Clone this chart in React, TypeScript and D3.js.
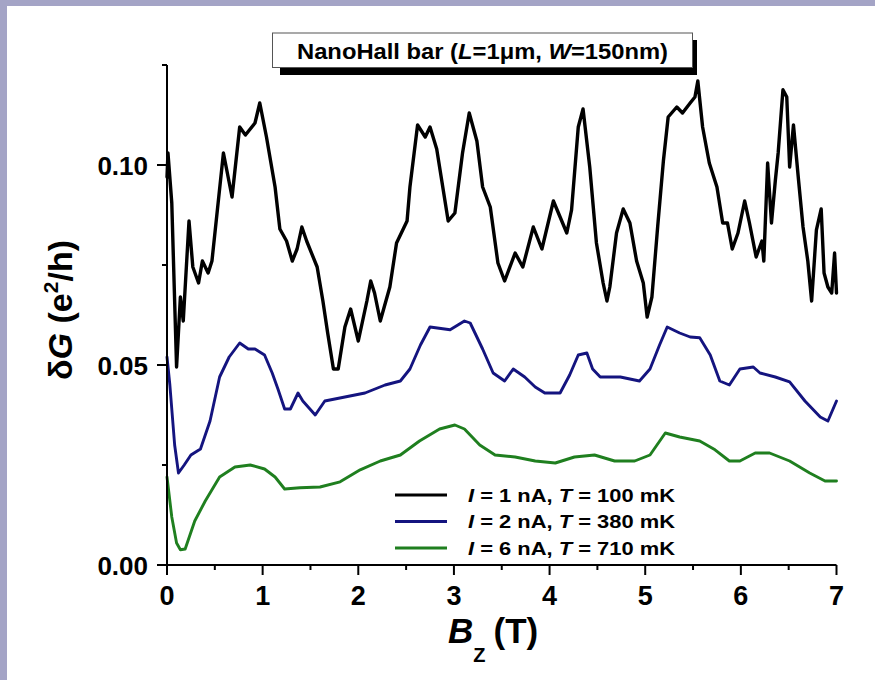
import React, { useEffect } from "react";
import * as d3 from "d3";

const xTicksMajor = [0, 1, 2, 3, 4, 5, 6, 7];
const xTicksMinor = [0.5, 1.5, 2.5, 3.5, 4.5, 5.5, 6.5];
const yTicksMajor = [0, 0.05, 0.1];
const yTickLabels = ["0.00", "0.05", "0.10"];
const yTicksMinor = [0.025, 0.075, 0.125];

const blackSeries: [number, number][] = [
  [0, 0.097], [0.01, 0.103], [0.05, 0.0905], [0.1, 0.0495], [0.14, 0.067], [0.17, 0.061], [0.23, 0.086],
  [0.27, 0.0745], [0.33, 0.0705], [0.37, 0.076], [0.43, 0.073], [0.47, 0.076], [0.59, 0.103], [0.68, 0.092],
  [0.76, 0.1095], [0.82, 0.1075], [0.92, 0.1105], [0.97, 0.1155], [1.04, 0.107], [1.13, 0.0945], [1.18, 0.084],
  [1.25, 0.081], [1.31, 0.076], [1.36, 0.079], [1.41, 0.0845], [1.46, 0.081], [1.57, 0.0745], [1.63, 0.066],
  [1.68, 0.058], [1.74, 0.049], [1.79, 0.049], [1.86, 0.0595], [1.92, 0.064], [2.0, 0.056], [2.09, 0.066],
  [2.13, 0.071], [2.17, 0.068], [2.23, 0.061], [2.33, 0.0695], [2.4, 0.0805], [2.51, 0.086], [2.54, 0.0945],
  [2.62, 0.11], [2.7, 0.107], [2.75, 0.1095], [2.82, 0.104], [2.94, 0.086], [3.01, 0.088], [3.09, 0.103],
  [3.16, 0.113], [3.24, 0.106], [3.3, 0.0945], [3.38, 0.0895], [3.46, 0.0755], [3.53, 0.071], [3.64, 0.078],
  [3.72, 0.0745], [3.83, 0.0845], [3.92, 0.079], [4.04, 0.091], [4.11, 0.087], [4.18, 0.083], [4.23, 0.0888],
  [4.3, 0.1095], [4.35, 0.114], [4.42, 0.0995], [4.49, 0.0805], [4.56, 0.0705], [4.6, 0.066], [4.63, 0.0695],
  [4.7, 0.083], [4.77, 0.089], [4.84, 0.0855], [4.91, 0.076], [4.98, 0.0705], [5.02, 0.062], [5.07, 0.067],
  [5.13, 0.0845], [5.19, 0.101], [5.24, 0.112], [5.33, 0.1145], [5.39, 0.113], [5.47, 0.1155], [5.52, 0.117],
  [5.55, 0.121], [5.6, 0.1095], [5.67, 0.1005], [5.75, 0.0945], [5.81, 0.0855], [5.86, 0.0855], [5.91, 0.079],
  [5.97, 0.083], [6.04, 0.091], [6.09, 0.0855], [6.16, 0.077], [6.22, 0.081], [6.24, 0.076], [6.28, 0.1005],
  [6.32, 0.0855], [6.36, 0.096], [6.39, 0.103], [6.44, 0.1188], [6.48, 0.117], [6.51, 0.0995], [6.55, 0.11],
  [6.6, 0.097], [6.65, 0.0845], [6.7, 0.076], [6.74, 0.066], [6.79, 0.0838], [6.84, 0.089], [6.87, 0.073],
  [6.91, 0.0695], [6.95, 0.068], [6.98, 0.078], [7.0, 0.068],
];

const blueSeries: [number, number][] = [
  [0, 0.052], [0.03, 0.045], [0.08, 0.03], [0.12, 0.023], [0.18, 0.025], [0.25, 0.0275], [0.35, 0.029],
  [0.45, 0.036], [0.55, 0.047], [0.65, 0.052], [0.76, 0.0555], [0.85, 0.054], [0.92, 0.054], [1.02, 0.0525],
  [1.1, 0.048], [1.16, 0.044], [1.23, 0.039], [1.29, 0.039], [1.37, 0.043], [1.42, 0.041], [1.55, 0.0375],
  [1.65, 0.041], [1.86, 0.042], [2.07, 0.043], [2.28, 0.045], [2.44, 0.046], [2.54, 0.049], [2.65, 0.055],
  [2.75, 0.0595], [2.96, 0.0588], [3.11, 0.061], [3.17, 0.0605], [3.3, 0.054], [3.41, 0.048], [3.53, 0.046],
  [3.62, 0.049], [3.74, 0.047], [3.85, 0.0445], [3.95, 0.043], [4.11, 0.043], [4.21, 0.0475], [4.3, 0.0525],
  [4.39, 0.053], [4.45, 0.049], [4.53, 0.047], [4.74, 0.047], [4.94, 0.046], [5.05, 0.049], [5.15, 0.055],
  [5.23, 0.0595], [5.36, 0.058], [5.47, 0.057], [5.57, 0.0568], [5.68, 0.0525], [5.78, 0.046], [5.88, 0.045],
  [5.99, 0.049], [6.13, 0.0495], [6.2, 0.048], [6.36, 0.047], [6.51, 0.0458], [6.67, 0.041], [6.83, 0.037],
  [6.91, 0.036], [7.0, 0.041],
];

const greenSeries: [number, number][] = [
  [0, 0.022], [0.05, 0.012], [0.1, 0.0055], [0.14, 0.0038], [0.19, 0.004], [0.29, 0.011], [0.4, 0.016],
  [0.55, 0.022], [0.71, 0.0245], [0.87, 0.025], [1.02, 0.024], [1.13, 0.022], [1.23, 0.019], [1.39, 0.0193],
  [1.6, 0.0195], [1.81, 0.0208], [2.02, 0.0238], [2.23, 0.026], [2.44, 0.0275], [2.64, 0.031], [2.85, 0.034],
  [3.01, 0.035], [3.11, 0.034], [3.27, 0.03], [3.43, 0.0275], [3.64, 0.027], [3.85, 0.026], [4.06, 0.0255],
  [4.26, 0.027], [4.47, 0.0275], [4.68, 0.026], [4.89, 0.026], [5.05, 0.0275], [5.21, 0.033], [5.36, 0.032],
  [5.57, 0.031], [5.73, 0.0288], [5.88, 0.026], [5.99, 0.026], [6.15, 0.028], [6.3, 0.028], [6.51, 0.026],
  [6.72, 0.023], [6.88, 0.021], [7.0, 0.021],
];

const legendLabels = [
  { i: "1", t: "100" },
  { i: "2", t: "380" },
  { i: "6", t: "710" },
];
const seriesColors = ["#000000", "#14147f", "#1f7f1f"];

const W = 875;
const H = 680;
const FONT = "'Liberation Sans', Arial, sans-serif";

export default function App() {
  useEffect(() => {
    document.documentElement.style.overflow = "hidden";
    document.body.style.margin = "0";
    document.body.style.overflow = "hidden";
  }, []);

  const x = d3.scaleLinear().domain([0, 7]).range([167, 836.5]);
  const y = d3.scaleLinear().domain([0, 0.125]).range([565, 65]);
  const line = d3
    .line<[number, number]>()
    .x((d) => x(d[0]))
    .y((d) => y(d[1]));

  const series = [blackSeries, blueSeries, greenSeries];

  return (
    <svg
      width={W}
      height={H}
      style={{ position: "absolute", left: 0, top: 0, display: "block" }}
      fontFamily={FONT}
    >
      <rect x={0} y={0} width={W} height={H} fill="#a4a4c6" />
      <rect x={7} y={6} width={W - 7} height={H - 6} fill="#ffffff" />

      {/* curves */}
      {series.map((s, k) => (
        <path
          key={k}
          d={line(s) || ""}
          fill="none"
          stroke={seriesColors[k]}
          strokeWidth={k === 0 ? 3.4 : 2.9}
          strokeLinejoin="round"
          strokeLinecap="round"
        />
      ))}

      {/* axes */}
      <line x1={x(0)} x2={x(0)} y1={y(0.125)} y2={y(0)} stroke="#000" strokeWidth={2} />
      <line x1={x(0)} x2={x(7)} y1={y(0)} y2={y(0)} stroke="#000" strokeWidth={2} />
      {xTicksMajor.map((t) => (
        <g key={"xm" + t}>
          <line x1={x(t)} x2={x(t)} y1={y(0)} y2={y(0) + 10} stroke="#000" strokeWidth={2} />
          <text x={x(t)} y={605} textAnchor="middle" fontSize={27} fontWeight="bold">
            {t}
          </text>
        </g>
      ))}
      {xTicksMinor.map((t) => (
        <line key={"xn" + t} x1={x(t)} x2={x(t)} y1={y(0)} y2={y(0) + 5} stroke="#000" strokeWidth={2} />
      ))}
      {yTicksMajor.map((t, i) => (
        <g key={"ym" + t}>
          <line x1={x(0) - 10} x2={x(0)} y1={y(t)} y2={y(t)} stroke="#000" strokeWidth={2} />
          <text x={148} y={y(t) + 9.5} textAnchor="end" fontSize={26} fontWeight="bold">
            {yTickLabels[i]}
          </text>
        </g>
      ))}
      {yTicksMinor.map((t) => (
        <line key={"yn" + t} x1={x(0) - 5} x2={x(0)} y1={y(t)} y2={y(t)} stroke="#000" strokeWidth={2} />
      ))}

      {/* x title */}
      <text x={448} y={643} fontSize={35} fontWeight="bold">
        <tspan fontStyle="italic">B</tspan>
        <tspan fontSize={20} dy={19}>Z</tspan>
        <tspan dy={-19} dx={8}>(T)</tspan>
      </text>

      {/* y title */}
      <text
        transform="translate(72,310) rotate(-90)"
        textAnchor="middle"
        fontSize={34}
        fontWeight="bold"
      >
        <tspan>δ</tspan>
        <tspan fontStyle="italic">G</tspan>
        <tspan> (e</tspan>
        <tspan fontSize={21} dy={-14}>2</tspan>
        <tspan dy={14}>/h)</tspan>
      </text>

      {/* title box */}
      <rect x={280} y={40} width={417} height={35} fill="#000" />
      <rect x={272.5} y={33} width={420} height={34.5} fill="#fff" stroke="#555" strokeWidth={1} />
      <text
        x={297}
        y={58.5}
        fontSize={22}
        fontWeight="bold"
        textLength={371}
        lengthAdjust="spacingAndGlyphs"
      >
        NanoHall bar (<tspan fontStyle="italic">L</tspan>=1μm, <tspan fontStyle="italic">W</tspan>=150nm)
      </text>

      {/* legend */}
      {legendLabels.map((l, k) => (
        <g key={"lg" + k}>
          <line x1={395} x2={447} y1={495 + k * 26.5} y2={495 + k * 26.5} stroke={seriesColors[k]} strokeWidth={3} />
          <text
            x={468}
            y={501.5 + k * 26.5}
            fontSize={18}
            fontWeight="bold"
            textLength={207}
            lengthAdjust="spacingAndGlyphs"
          >
            <tspan fontStyle="italic">I</tspan>
            {`  =  ${l.i} nA,  `}
            <tspan fontStyle="italic">T</tspan>
            {`  =  ${l.t} mK`}
          </text>
        </g>
      ))}
    </svg>
  );
}
